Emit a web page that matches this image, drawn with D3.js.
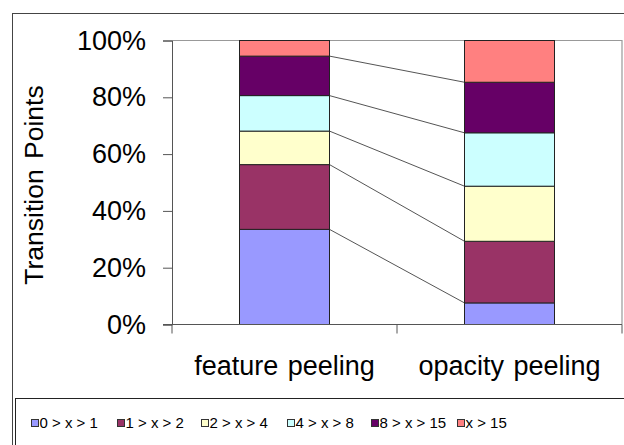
<!DOCTYPE html>
<html>
<head>
<meta charset="utf-8">
<script src="https://cdn.jsdelivr.net/npm/d3@7"></script>
<style>
  html, body { margin: 0; padding: 0; background: #fff; }
  svg { display: block; font-family: "Liberation Sans", Arial, sans-serif; }
</style>
</head>
<body>
<svg id="chart" width="624" height="445"></svg>
<script>
// Share of transition points per interval, for each peeling method (percent)
const categories = ["feature peeling", "opacity peeling"];
const seriesNames = ["0 > x > 1", "1 > x > 2", "2 > x > 4", "4 > x > 8", "8 > x > 15", "x > 15"];
const featurePeeling = [33.5, 22.8, 11.8, 12.5, 13.9, 5.5];
const opacityPeeling = [7.6, 21.7, 19.4, 18.8, 17.8, 14.7];
const yTicks = [0, 20, 40, 60, 80, 100];
const colors = ["#9999FF", "#993366", "#FFFFCC", "#CCFFFF", "#660066", "#FF8080"];

const svg = d3.select("#chart");

// Outer chart frame
svg.append("rect").attr("x", 12.5).attr("y", 13.5).attr("width", 640).attr("height", 460)
  .attr("fill", "none").attr("stroke", "#444").attr("stroke-width", 1);

const plot = { left: 172, right: 622, top: 40.5, bottom: 324.5 };

const rows = categories.map((c, i) => {
  const vals = i === 0 ? featurePeeling : opacityPeeling;
  const r = { category: c };
  seriesNames.forEach((s, j) => r[s] = vals[j]);
  return r;
});
const stacked = d3.stack().keys(seriesNames)(rows);

const x = d3.scaleBand().domain(categories).range([plot.left, plot.right]).padding(0);
const barW = x.bandwidth() * 0.4;
const barX = c => x(c) + (x.bandwidth() - barW) / 2;
const y = d3.scaleLinear().domain([0, 100]).range([plot.bottom, plot.top]);

// Plot area border (top and right)
svg.append("path")
  .attr("d", `M${plot.left},${plot.top}H${plot.right}V${plot.bottom}`)
  .attr("fill", "none").attr("stroke", "#999").attr("stroke-width", 1.2);

// Series connector lines between bar segment tops
const c0 = categories[0], c1 = categories[1];
stacked.slice(0, -1).forEach(layer => {
  svg.append("line")
    .attr("x1", barX(c0) + barW).attr("y1", y(layer[0][1]))
    .attr("x2", barX(c1)).attr("y2", y(layer[1][1]))
    .attr("stroke", "#555").attr("stroke-width", 1);
});

// Stacked bars
svg.append("g").selectAll("g").data(stacked).join("g")
  .attr("fill", (d, i) => colors[i])
  .selectAll("rect").data(d => d).join("rect")
  .attr("x", d => barX(d.data.category))
  .attr("y", d => y(d[1]))
  .attr("width", barW)
  .attr("height", d => y(d[0]) - y(d[1]))
  .attr("stroke", "#222").attr("stroke-width", 1);

// Y axis
const yAxis = d3.axisLeft(y).tickValues(yTicks).tickFormat(d => d + "%")
  .tickSize(9).tickPadding(17);
const gy = svg.append("g").attr("transform", `translate(${plot.left},0)`).call(yAxis);
gy.select(".domain").attr("stroke", "#555");
gy.selectAll(".tick line").attr("stroke", "#555");
gy.selectAll("text").attr("font-size", 27).attr("fill", "#000")
  .attr("font-family", "Liberation Sans, Arial, sans-serif");

// X axis with ticks at the band boundaries
const gx = svg.append("g");
gx.append("line").attr("x1", plot.left - 9).attr("x2", plot.right)
  .attr("y1", plot.bottom).attr("y2", plot.bottom).attr("stroke", "#555");
const bounds = categories.map(c => x(c)).concat([x(categories[categories.length - 1]) + x.bandwidth()]);
gx.selectAll("line.tk").data(bounds).join("line").attr("class", "tk")
  .attr("x1", d => d).attr("x2", d => d)
  .attr("y1", plot.bottom).attr("y2", plot.bottom + 9).attr("stroke", "#555");
gx.selectAll("text").data(categories).join("text")
  .attr("x", d => x(d) + x.bandwidth() / 2).attr("y", 375)
  .attr("text-anchor", "middle").attr("font-size", 27).attr("word-spacing", 2)
  .text(d => d);

// Y axis title
svg.append("text")
  .attr("transform", "translate(43,185) rotate(-90)")
  .attr("text-anchor", "middle").attr("font-size", 26.5).attr("word-spacing", 3)
  .text("Transition Points");

// Legend
svg.append("rect").attr("x", 15.5).attr("y", 398.5).attr("width", 640).attr("height", 80)
  .attr("fill", "#fff").attr("stroke", "#222").attr("stroke-width", 1);
const legendX = [31, 117, 201, 287, 371, 457];
const lg = svg.append("g").selectAll("g").data(seriesNames).join("g")
  .attr("transform", (d, i) => `translate(${legendX[i]},0)`);
lg.append("rect").attr("x", 0.5).attr("y", 419.5).attr("width", 7).attr("height", 7)
  .attr("fill", (d, i) => colors[i]).attr("stroke", "#333").attr("stroke-width", 1);
lg.append("text").attr("x", 8.5).attr("y", 428).attr("font-size", 15).text(d => d);
</script>
</body>
</html>
